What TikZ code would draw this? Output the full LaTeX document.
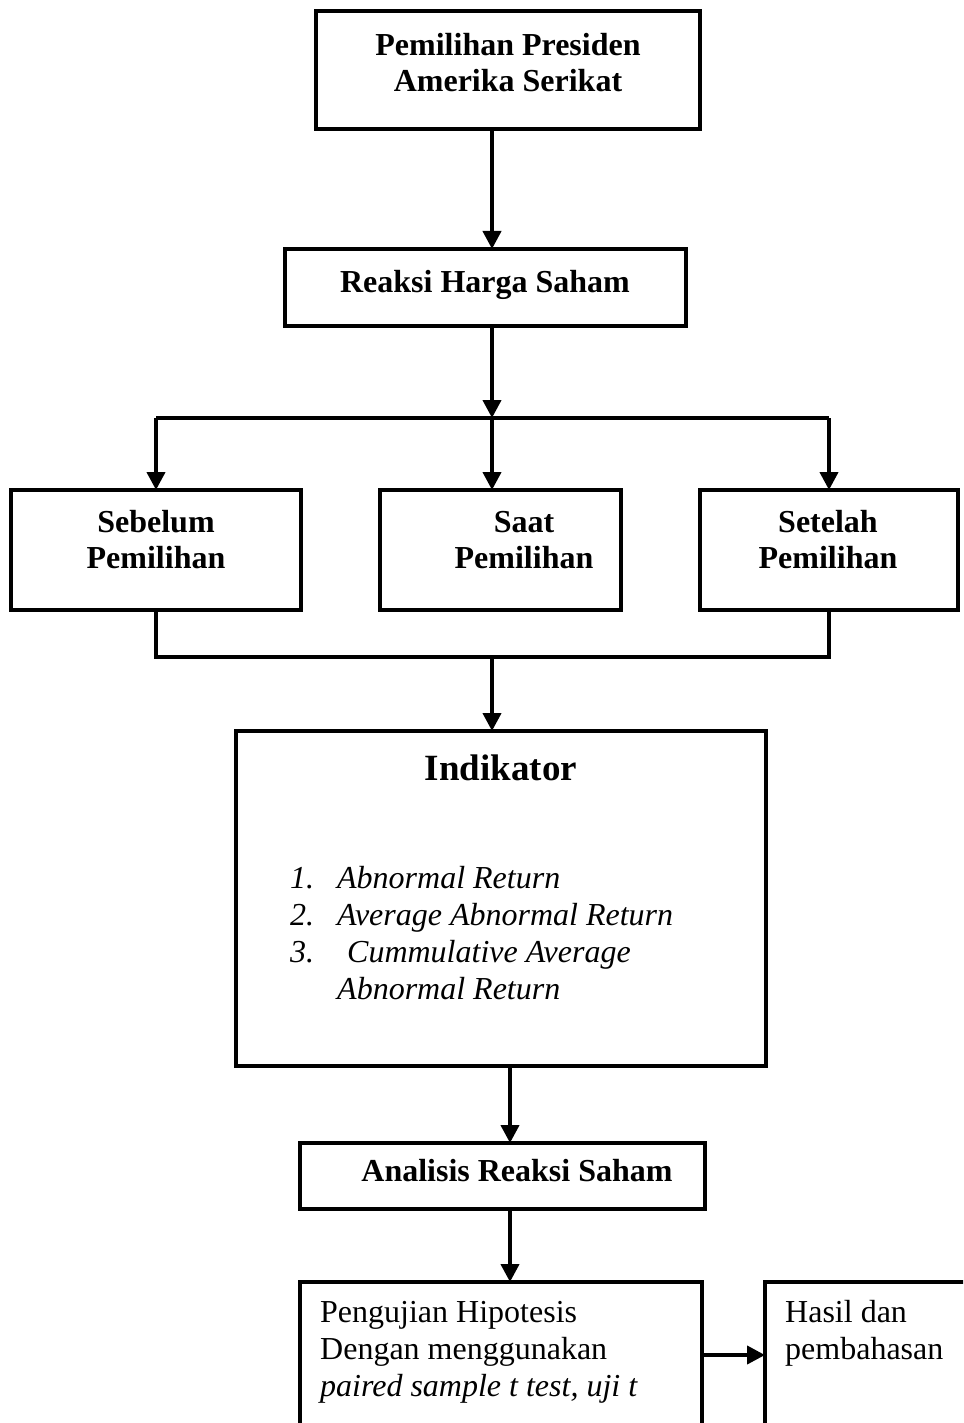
\documentclass[tikz,border=0pt]{standalone}
\usepackage{fontspec}
\setmainfont{Liberation Serif}
\usetikzlibrary{arrows.meta}
\begin{document}
\begin{tikzpicture}[x=1pt,y=-1pt,
  box/.style={draw, line width=4pt, inner sep=0pt, outer sep=0pt},
  arr/.style={line width=4pt, -{Triangle[length=18pt,width=18pt]}},
  conn/.style={line width=4pt},
  bt/.style={font=\fontsize{32}{36}\selectfont\bfseries, inner sep=0pt, align=center, anchor=base},
  rt/.style={font=\fontsize{32}{37}\selectfont, inner sep=0pt, align=left, anchor=base west}]
\clip (0,0) rectangle (963,1423);
% boxes
\node[box, minimum width=384pt, minimum height=118pt] (b1) at (508,70) {};
\node[box, minimum width=401pt, minimum height=77pt] (b2) at (485.5,287.5) {};
\node[box, minimum width=290pt, minimum height=120pt] (sb) at (156,550) {};
\node[box, minimum width=241pt, minimum height=120pt] (sa) at (500.5,550) {};
\node[box, minimum width=258pt, minimum height=120pt] (st) at (829,550) {};
\node[box, minimum width=530pt, minimum height=335pt] (ind) at (501,898.5) {};
\node[box, minimum width=405pt, minimum height=66pt] (an) at (502.5,1176) {};
\node[box, minimum width=402pt, minimum height=198pt] (pg) at (501,1381) {};
\node[box, minimum width=235pt, minimum height=198pt] (hs) at (882.5,1381) {};
% texts
\node[bt] (t1) at (508,92) {Pemilihan Presiden\\Amerika Serikat};
\node[bt] (t2) at (485,292) {Reaksi Harga Saham};
\node[bt] (t3) at (156,568) {Sebelum\\Pemilihan};
\node[bt] (t4) at (524,568) {Saat\\Pemilihan};
\node[bt] (t5) at (828,568) {Setelah\\Pemilihan};
\node[bt, font=\fontsize{37}{42}\selectfont\bfseries] (t6) at (501,780) {Indikator};
\node[anchor=base west, inner sep=0pt, font=\fontsize{32}{37}\selectfont\itshape] (t7) at (290,999)
  {\begin{tabular}[b]{@{}p{47pt}@{}l@{}}1. & Abnormal Return\\ 2. & Average Abnormal Return\\ 3. & \hspace{10pt}Cummulative Average\\ & Abnormal Return\end{tabular}};
\node[bt] (t8) at (517,1181) {Analisis Reaksi Saham};
\node[rt] (t9) at (320,1396) {Pengujian Hipotesis\\Dengan menggunakan\\\textit{paired sample t test, uji t}};
\node[rt] (t10) at (785,1359) {Hasil dan\\pembahasan};
% connectors
\coordinate (j1) at (492,418);
\coordinate (j2) at (492,657);
\coordinate (j3) at (510,0);
\coordinate (j4) at (0,1355);
\draw[arr] (b1.south -| j1) -- (b2.north -| j1);
\draw[arr] (b2.south -| j1) -- (j1);
\draw[conn] (sb.north |- j1) -- (st.north |- j1);
\draw[arr] (sb.north |- j1) -- (sb.north);
\draw[arr] (j1) -- (sa.north -| j1);
\draw[arr] (st.north |- j1) -- (st.north);
\draw[conn] (sb.south) -- (sb.south |- j2) -- (st.south |- j2) -- (st.south);
\draw[arr] (j2) -- (ind.north -| j2);
\draw[arr] (ind.south -| j3) -- (an.north -| j3);
\draw[arr] (an.south -| j3) -- (pg.north -| j3);
\draw[arr] (pg.east |- j4) -- (hs.west |- j4);
\end{tikzpicture}
\end{document}
